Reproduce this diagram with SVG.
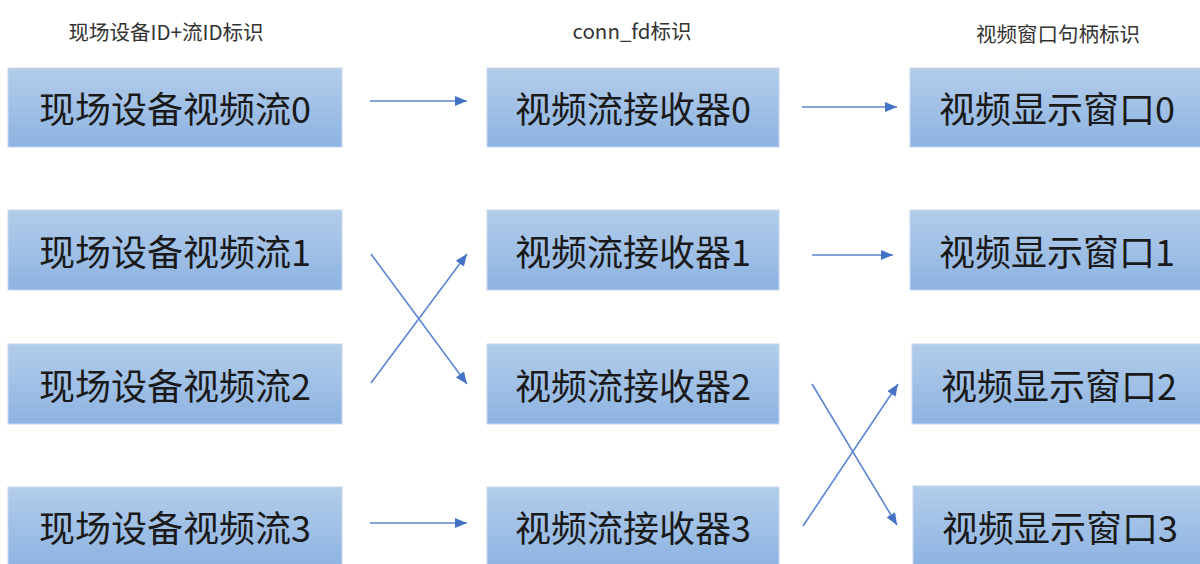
<svg xmlns="http://www.w3.org/2000/svg" width="1200" height="564" viewBox="0 0 1200 564">
<defs>
<linearGradient id="g" x1="0" y1="0" x2="0" y2="1">
<stop offset="0" stop-color="#b3cdea"/>
<stop offset="1" stop-color="#8db3e2"/>
</linearGradient>
<marker id="ah" viewBox="0 0 12 10" refX="12" refY="5" markerWidth="12" markerHeight="10" markerUnits="userSpaceOnUse" orient="auto">
<path d="M0,0 L12,5 L0,10 Z" fill="#4472c4"/>
</marker>
<style>
.box{fill:url(#g);stroke:#c5d8ef;stroke-width:1}
.lbl{font-family:"Noto Sans CJK SC","Liberation Sans",sans-serif;font-size:36px;fill:#1a1a1a;text-anchor:middle;dominant-baseline:central}
.hdr{font-family:"Noto Sans CJK SC","Liberation Sans",sans-serif;font-size:20.5px;fill:#333;text-anchor:middle;dominant-baseline:central}
.arr{stroke:#5b86d0;stroke-width:1.6;fill:none;marker-end:url(#ah)}
</style>
</defs>
<rect width="1200" height="564" fill="#fff"/>
<g id="headers">
<text class="hdr" x="166" y="31">现场设备ID+流ID标识</text>
<text class="hdr" x="632" y="30">conn_fd标识</text>
<text class="hdr" x="1058" y="33">视频窗口句柄标识</text>
</g>
<g id="src0"><rect class="box" x="8" y="68" width="334" height="79"/><text class="lbl" x="175" y="107">现场设备视频流0</text></g>
<g id="src1"><rect class="box" x="8" y="210" width="334" height="80"/><text class="lbl" x="175" y="250">现场设备视频流1</text></g>
<g id="src2"><rect class="box" x="8" y="344" width="334" height="80"/><text class="lbl" x="175" y="384">现场设备视频流2</text></g>
<g id="src3"><rect class="box" x="8" y="487" width="334" height="80"/><text class="lbl" x="175" y="526">现场设备视频流3</text></g>
<g id="rcv0"><rect class="box" x="487" y="68" width="292" height="79"/><text class="lbl" x="633" y="107">视频流接收器0</text></g>
<g id="rcv1"><rect class="box" x="487" y="210" width="292" height="80"/><text class="lbl" x="633" y="250">视频流接收器1</text></g>
<g id="rcv2"><rect class="box" x="487" y="344" width="292" height="80"/><text class="lbl" x="633" y="384">视频流接收器2</text></g>
<g id="rcv3"><rect class="box" x="487" y="487" width="292" height="80"/><text class="lbl" x="633" y="526">视频流接收器3</text></g>
<g id="win0"><rect class="box" x="910" y="68" width="292" height="79"/><text class="lbl" x="1057" y="107">视频显示窗口0</text></g>
<g id="win1"><rect class="box" x="910" y="210" width="292" height="80"/><text class="lbl" x="1057" y="250">视频显示窗口1</text></g>
<g id="win2"><rect class="box" x="912" y="344" width="290" height="80"/><text class="lbl" x="1059" y="384">视频显示窗口2</text></g>
<g id="win3"><rect class="box" x="913" y="486" width="290" height="80"/><text class="lbl" x="1060" y="526">视频显示窗口3</text></g>
<g id="connectors">
<line class="arr" x1="370" y1="101" x2="467" y2="101"/>
<line class="arr" x1="371" y1="254" x2="467" y2="384"/>
<line class="arr" x1="371" y1="383" x2="467" y2="254"/>
<line class="arr" x1="370" y1="523" x2="467" y2="523"/>
<line class="arr" x1="802" y1="107" x2="897" y2="107"/>
<line class="arr" x1="812" y1="255" x2="893" y2="255"/>
<line class="arr" x1="812" y1="384" x2="897" y2="525"/>
<line class="arr" x1="803" y1="526" x2="898" y2="384"/>
</g>
</svg>
